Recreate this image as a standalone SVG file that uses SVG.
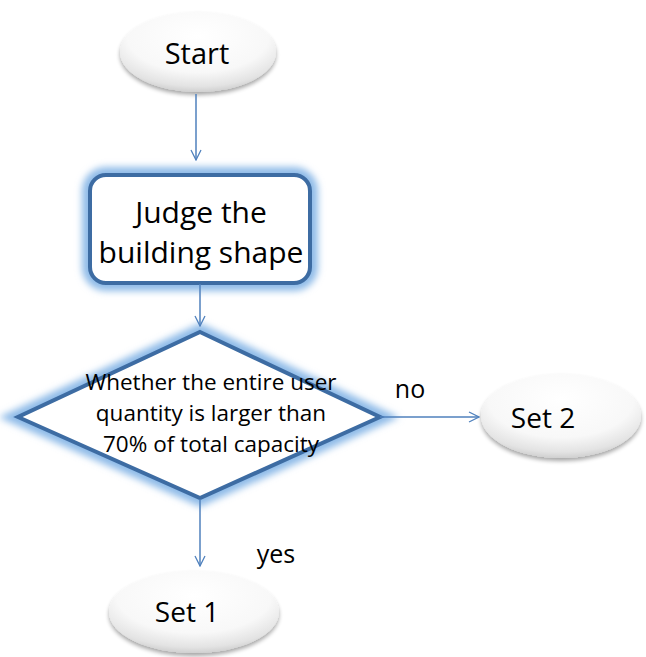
<svg xmlns="http://www.w3.org/2000/svg" width="646" height="657" viewBox="0 0 646 657">
<defs>
<radialGradient id="eg" cx="0.5" cy="0.3" r="0.7">
<stop offset="0" stop-color="#ffffff"/>
<stop offset="0.65" stop-color="#f8f8f8"/>
<stop offset="0.9" stop-color="#e3e3e3"/>
<stop offset="1" stop-color="#d0d0d0"/>
</radialGradient>
<filter id="sh" x="-20%" y="-20%" width="140%" height="150%">
<feGaussianBlur in="SourceAlpha" stdDeviation="2"/>
<feOffset dx="0" dy="3"/>
<feComponentTransfer><feFuncA type="linear" slope="0.35"/></feComponentTransfer>
<feMerge><feMergeNode/><feMergeNode in="SourceGraphic"/></feMerge>
</filter>
<filter id="glow" x="-20%" y="-20%" width="140%" height="140%">
<feGaussianBlur in="SourceGraphic" stdDeviation="3.5"/>
</filter>
<marker id="arr" viewBox="0 0 12 12" refX="11" refY="6" markerWidth="12" markerHeight="12" markerUnits="userSpaceOnUse" orient="auto">
<path d="M1,1 L11,6 L1,11" fill="none" stroke="#4f81bd" stroke-width="1.3"/>
</marker>
</defs>
<style>
.t{font-family:"Open Sans","Liberation Sans",sans-serif;fill:#000;text-anchor:middle}
.c{stroke:#4f81bd;stroke-width:1.5;fill:none}
.ell{fill:url(#eg);filter:url(#sh)}
.gl{fill:none;stroke:#8fbbe8;stroke-width:16;filter:url(#glow)}
.bd{fill:#fff;stroke:#3d6ca3;stroke-width:4}
</style>
<rect width="646" height="657" fill="#fff"/>
<g id="start">
<ellipse class="ell" cx="198" cy="52" rx="78" ry="40"/>
<text class="t" x="197" y="64" font-size="29">Start</text>
</g>
<g id="judge">
<rect class="gl" x="90" y="175" width="220" height="108" rx="16"/>
<rect class="bd" x="90" y="175" width="220" height="108" rx="16"/>
<text class="t" x="201" y="223" font-size="30">Judge the</text>
<text class="t" x="201" y="263" font-size="30">building shape</text>
</g>
<g id="decision">
<polygon class="gl" points="200,332 380,417 200,498 18,417"/>
<polygon class="bd" points="200,332 380,417 200,498 18,417"/>
<text class="t" x="211" y="390" font-size="22.5">Whether the entire user</text>
<text class="t" x="211" y="421" font-size="22.5">quantity is larger than</text>
<text class="t" x="211" y="452" font-size="22.5">70% of total capacity</text>
</g>
<g id="set2">
<ellipse class="ell" cx="561" cy="416" rx="80" ry="42"/>
<text class="t" x="543" y="428" font-size="28">Set 2</text>
</g>
<g id="set1">
<ellipse class="ell" cx="194" cy="612" rx="85" ry="41"/>
<text class="t" x="187" y="622" font-size="28">Set 1</text>
</g>
<g id="connectors">
<line class="c" x1="196" y1="94" x2="196" y2="160" marker-end="url(#arr)"/>
<line class="c" x1="200" y1="284" x2="200" y2="326" marker-end="url(#arr)"/>
<line class="c" x1="380" y1="417" x2="479" y2="417" marker-end="url(#arr)"/>
<line class="c" x1="200" y1="499" x2="200" y2="566" marker-end="url(#arr)"/>
<text class="t" x="410" y="398" font-size="25">no</text>
<text class="t" x="276" y="563" font-size="25">yes</text>
</g>
</svg>
